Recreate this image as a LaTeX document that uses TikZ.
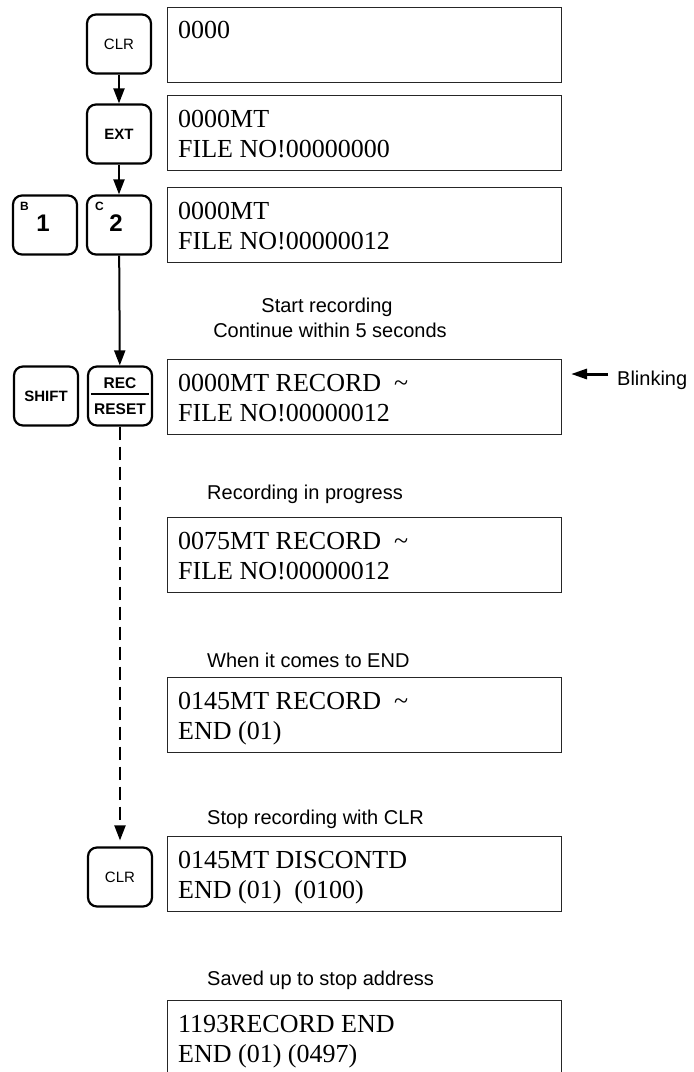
\documentclass[tikz,border=0pt]{standalone}
\usepackage{fontspec}
\setmainfont{Liberation Serif}
\setsansfont{Liberation Sans}
\usetikzlibrary{arrows.meta,calc}
\begin{document}
\begin{tikzpicture}[x=1pt,y=-1pt,
  key/.style={draw, line width=2.2pt, rounded corners=9pt, minimum width=64pt, minimum height=59pt, inner sep=0pt, font=\sffamily\fontsize{15}{18}\selectfont},
  keyb/.style={key, font=\sffamily\bfseries\fontsize{15}{18}\selectfont},
  keytxt/.style={inner sep=0pt, anchor=base, font=\sffamily\bfseries\fontsize{15.5}{18}\selectfont},
  keysup/.style={inner sep=0pt, anchor=base west, font=\sffamily\bfseries\fontsize{12}{14}\selectfont},
  keydig/.style={inner sep=0pt, anchor=base, font=\sffamily\bfseries\fontsize{24}{28}\selectfont},
  lcd/.style={draw=black!85, line width=1.3pt, minimum width=394pt, minimum height=75pt, inner sep=0pt},
  lcdtxt/.style={anchor=base west, inner sep=0pt, font=\fontsize{26}{30}\selectfont},
  note/.style={anchor=base west, inner sep=0pt, font=\sffamily\fontsize{20}{24}\selectfont},
  notec/.style={note, anchor=base},
  flow/.style={line width=2pt, -{Triangle[length=15pt,width=11pt]}},
]
\useasboundingbox (0,0) rectangle (694,1072);

% keys
\node[key] (clrA) at (119,44) {CLR};
\node[keyb] (ext) at (119,134) {EXT};
\node[key] (kb1) at (45,225) {};
\node[keysup] (kb1l) at (20,210) {B};
\node[keydig] (kb1d) at (43,231) {1};
\node[key] (kc2) at (119,225) {};
\node[keysup] (kc2l) at (95,210) {C};
\node[keydig] (kc2d) at (116,231) {2};
\node[keyb] (shift) at (46,396) {SHIFT};
\node[key] (rec) at (120,396) {};
\node[keytxt] (rectop) at (120,388) {REC};
\node[keytxt] (recbot) at (120,414) {RESET};
\draw[line width=1.8pt] ($(rec.west)+(4,-2)$) -- ($(rec.east)+(-4,-2)$);
\node[key] (clrB) at (120,877) {CLR};

% connectors
\draw[flow] (clrA) -- (ext);
\draw[flow] (ext) -- (kc2);
\draw[flow] (kc2) -- (rec);
\draw[flow, dash pattern=on 13pt off 7pt, shorten >=6pt] (rec) -- (clrB);

% displays
\node[lcd] (d1) at (364.5,45) {};
\node[lcdtxt] (d1a) at (178,38) {0000};

\node[lcd] (d2) at (364.5,133) {};
\node[lcdtxt] (d2a) at (178,127) {0000MT};
\node[lcdtxt] (d2b) at (178,157) {FILE NO!00000000};

\node[lcd] (d3) at (364.5,225) {};
\node[lcdtxt] (d3a) at (178,219) {0000MT};
\node[lcdtxt] (d3b) at (178,249) {FILE NO!00000012};

\node[notec] (lstart) at (327,312) {Start recording};
\node[notec] (lcont) at (330,337) {Continue within 5 seconds};

\node[lcd] (d4) at (364.5,397) {};
\node[lcdtxt] (d4a) at (178,391) {0000MT RECORD\ \ \textasciitilde};
\node[lcdtxt] (d4b) at (178,421) {FILE NO!00000012};

\node[note] (lblink) at (617,385) {Blinking};
\coordinate (blinktail) at (608,374);
\coordinate (blinktip) at (571,374);
\draw[line width=3pt, -{Triangle[length=16pt,width=10pt]}] (blinktail) -- (blinktip);

\node[note] (lprog) at (207,499) {Recording in progress};
\node[lcd] (d5) at (364.5,555) {};
\node[lcdtxt] (d5a) at (178,549) {0075MT RECORD\ \ \textasciitilde};
\node[lcdtxt] (d5b) at (178,579) {FILE NO!00000012};

\node[note] (lend) at (207,667) {When it comes to END};
\node[lcd] (d6) at (364.5,715) {};
\node[lcdtxt] (d6a) at (178,709) {0145MT RECORD\ \ \textasciitilde};
\node[lcdtxt] (d6b) at (178,739) {END (01)};

\node[note] (lstop) at (207,824) {Stop recording with CLR};
\node[lcd] (d7) at (364.5,874) {};
\node[lcdtxt] (d7a) at (178,868) {0145MT DISCONTD};
\node[lcdtxt] (d7b) at (178,898) {END (01)\ \ (0100)};

\node[note] (lsaved) at (207,985) {Saved up to stop address};
\node[lcd] (d8) at (364.5,1038) {};
\node[lcdtxt] (d8a) at (178,1032) {1193RECORD END};
\node[lcdtxt] (d8b) at (178,1062) {END (01) (0497)};
\end{tikzpicture}
\end{document}
